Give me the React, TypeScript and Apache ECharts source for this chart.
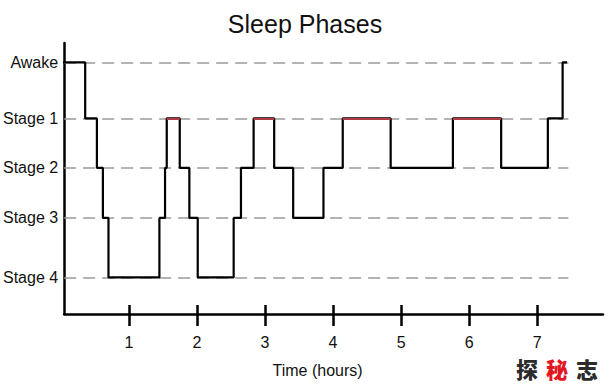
import React, { useEffect, useRef } from "react";
import * as echarts from "echarts";

const FONT = "'Liberation Sans', Arial, Helvetica, sans-serif";

// Stage names and their vertical depth positions
const stageNames = ["Awake", "Stage 1", "Stage 2", "Stage 3", "Stage 4"];
const stageDepths = [0, 1.042, 1.963, 2.893, 4];

// Hypnogram: time (hours) at which each stage begins
const transitionTimes = [
  0, 0.359, 0.531, 0.619, 0.701, 1.449, 1.532, 1.557, 1.748, 1.889, 2.012, 2.54,
  2.647, 2.833, 3.135, 3.414, 3.859, 4.142, 4.846, 5.76, 6.469, 7.155, 7.372, 7.437,
];
const stageSequence = [
  "Awake", "Stage 1", "Stage 2", "Stage 3", "Stage 4", "Stage 3", "Stage 2", "Stage 1",
  "Stage 2", "Stage 3", "Stage 4", "Stage 3", "Stage 2", "Stage 1", "Stage 2", "Stage 3",
  "Stage 2", "Stage 1", "Stage 2", "Stage 1", "Stage 2", "Stage 1", "Awake", "Awake",
];
// REM (red) segments: indices into the sequence
const remIndices = [7, 13, 17, 19];

const xTicks = [1, 2, 3, 4, 5, 6, 7];
const xMin = 0.05;
const xMax = 7.965;
const gridLineEnd = 7.456;

const depthOf = (name: string) => stageDepths[stageNames.indexOf(name)];

export default function App() {
  const ref = useRef<HTMLDivElement>(null);

  useEffect(() => {
    if (!ref.current) return;
    document.body.style.margin = "0";
    const chart = echarts.init(ref.current, null, { renderer: "svg" });

    const stepData = transitionTimes.map((t, i) => [t, depthOf(stageSequence[i])]);
    const remData = remIndices.map((i) => ({
      coords: [
        [transitionTimes[i], depthOf(stageSequence[i])],
        [transitionTimes[i + 1], depthOf(stageSequence[i])],
      ],
    }));
    const gridData = stageDepths.map((d) => ({
      coords: [
        [xMin, d],
        [gridLineEnd, d],
      ],
    }));

    const wmStyle = (fill: string) => ({
      fontSize: 22,
      lineHeight: 22,
      width: 30,
      align: "center",
      fontWeight: 900,
      fill,
      fontFamily: "'Noto Sans CJK SC', sans-serif",
    });

    const option: any = {
      animation: false,
      backgroundColor: "#ffffff",
      textStyle: { fontFamily: FONT },
      title: {
        text: "Sleep Phases",
        left: "center",
        top: 6,
        textStyle: { fontSize: 25, fontWeight: "normal", color: "#111", fontFamily: FONT },
      },
      grid: { left: 63, right: 7, top: 43, bottom: 72 },
      xAxis: [
        {
          type: "value",
          min: xMin,
          max: xMax,
          position: "bottom",
          axisLine: { show: true, onZero: false, lineStyle: { color: "#000", width: 2.5 } },
          axisTick: {
            show: true,
            customValues: xTicks,
            length: 12,
            lineStyle: { color: "#000", width: 2.5 },
          },
          axisLabel: {
            customValues: xTicks,
            margin: 20,
            fontSize: 16,
            lineHeight: 16,
            color: "#111",
            fontFamily: FONT,
          },
          splitLine: { show: false },
          name: "Time (hours)",
          nameLocation: "middle",
          nameGap: 48,
          nameTextStyle: { fontSize: 16, color: "#111", fontFamily: FONT, padding: [0, 32, 0, 0] },
        },
        {
          type: "value",
          min: xMin,
          max: xMax,
          position: "bottom",
          axisLine: { show: false, onZero: false },
          axisTick: {
            show: true,
            inside: true,
            customValues: xTicks,
            length: 9,
            lineStyle: { color: "#000", width: 2.5 },
          },
          axisLabel: { show: false },
          splitLine: { show: false },
        },
      ],
      yAxis: {
        type: "value",
        inverse: true,
        min: -0.36,
        max: 4.68,
        axisLine: { show: true, onZero: false, lineStyle: { color: "#000", width: 2.5 } },
        axisTick: { show: false },
        axisLabel: {
          customValues: stageDepths,
          formatter: (v: number) => {
            const i = stageDepths.findIndex((d) => Math.abs(d - v) < 1e-6);
            return i >= 0 ? stageNames[i] : "";
          },
          fontSize: 16,
          color: "#111",
          margin: 6,
          fontFamily: FONT,
        },
        splitLine: { show: false },
      },
      series: [
        {
          type: "lines",
          coordinateSystem: "cartesian2d",
          xAxisIndex: 0,
          yAxisIndex: 0,
          z: 1,
          silent: true,
          lineStyle: { color: "#9a9a9a", width: 1.5, type: [12, 7], opacity: 1 },
          data: gridData,
        },
        {
          type: "line",
          step: "end",
          xAxisIndex: 0,
          yAxisIndex: 0,
          z: 3,
          symbol: "none",
          lineStyle: { color: "#000", width: 2.2 },
          data: stepData,
        },
        {
          type: "lines",
          coordinateSystem: "cartesian2d",
          xAxisIndex: 0,
          yAxisIndex: 0,
          z: 4,
          silent: true,
          lineStyle: { color: "#b23a44", width: 2, opacity: 1 },
          data: remData,
        },
      ],
      graphic: [
        {
          type: "text",
          left: 512,
          top: 357,
          silent: true,
          style: {
            text: "{a|探}{b|秘}{a|志}",
            rich: {
              a: wmStyle("#2b2b2b"),
              b: wmStyle("#e3161f"),
            },
          },
        },
      ],
    };

    chart.setOption(option);
    return () => chart.dispose();
  }, []);

  return (
    <div
      ref={ref}
      style={{ position: "fixed", left: 0, top: 0, width: 610, height: 386 }}
    />
  );
}
